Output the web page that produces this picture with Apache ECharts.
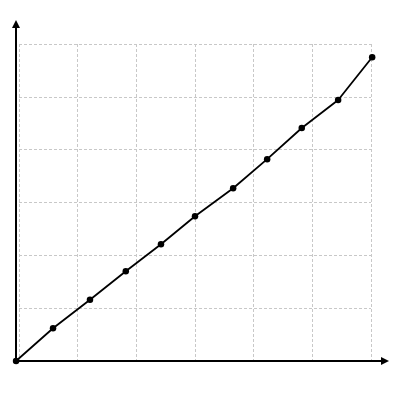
<!DOCTYPE html>
<html><head><meta charset="utf-8">
<script src="https://cdn.jsdelivr.net/npm/echarts@6/dist/echarts.min.js"></script>
<style>html,body{margin:0;padding:0;background:#fff}#c{width:400px;height:400px}</style>
</head><body><div id="c"></div>
<script>
const xValues = [-0.05, 0.58, 1.21, 1.82, 2.42, 3.0, 3.65, 4.23, 4.82, 5.44, 6.02];
const yValues = [0, 0.62, 1.16, 1.7, 2.21, 2.74, 3.27, 3.82, 4.41, 4.94, 5.75];
const xMax = 6, yMax = 6;

const chart = echarts.init(document.getElementById('c'));
const split = {show: true, lineStyle: {color: '#c8c8c8', type: [3, 2], width: 1}};
chart.setOption({
  animation: false,
  grid: [
    {left: 19, top: 44, right: 29, bottom: 39},
    {left: 16, top: 24, right: 15, bottom: 39}
  ],
  xAxis: [
    {type: 'value', gridIndex: 0, min: 0, max: xMax, interval: 1,
     axisLine: {show: false}, axisTick: {show: false}, axisLabel: {show: false}, splitLine: split},
    {type: 'value', gridIndex: 1, min: 0, max: 1,
     axisLine: {show: true, symbol: ['none', 'triangle'], symbolSize: [8, 8], lineStyle: {color: '#000', width: 2}},
     axisTick: {show: false}, axisLabel: {show: false}, splitLine: {show: false}}
  ],
  yAxis: [
    {type: 'value', gridIndex: 0, min: 0, max: yMax, interval: 1,
     axisLine: {show: false}, axisTick: {show: false}, axisLabel: {show: false}, splitLine: split},
    {type: 'value', gridIndex: 1, min: 0, max: 1,
     axisLine: {show: true, symbol: ['none', 'triangle'], symbolSize: [8, 8], lineStyle: {color: '#000', width: 2}},
     axisTick: {show: false}, axisLabel: {show: false}, splitLine: {show: false}}
  ],
  series: [{
    type: 'line', xAxisIndex: 0, yAxisIndex: 0,
    data: xValues.map((x, i) => [x, yValues[i]]),
    symbol: 'circle', symbolSize: 6.5, showSymbol: true, clip: false,
    lineStyle: {color: '#000', width: 1.8},
    itemStyle: {color: '#000'},
    z: 5
  }]
});
</script></body></html>
